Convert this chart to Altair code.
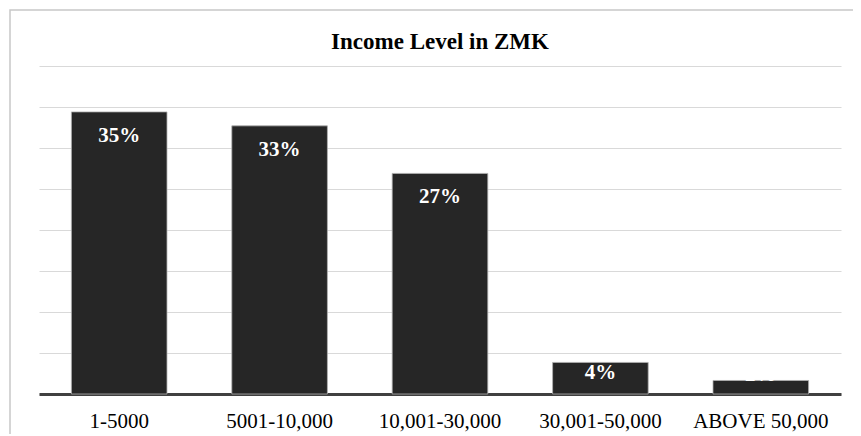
import altair as alt
import pandas as pd

categories = ["1-5000", "5001-10,000", "10,001-30,000", "30,001-50,000", "ABOVE 50,000"]
values = [34.4, 32.7, 26.9, 3.85, 1.65]
labels = ["35%", "33%", "27%", "4%", "2%"]
label_group = ["tall", "tall", "tall", "short", "tiny"]

df = pd.DataFrame({"cat": categories, "val": values, "lab": labels, "grp": label_group})

W, H = 802, 328
FONT = "Liberation Serif"

x = alt.X("cat:N", sort=categories, title=None,
          scale=alt.Scale(paddingInner=0.404, paddingOuter=0.202),
          axis=alt.Axis(labelAngle=0, labelFont=FONT, labelFontSize=21, labelColor="#000000",
                        labelBaseline="alphabetic", labelPadding=33, ticks=False,
                        domainColor="#404040", domainWidth=3, grid=False))
y = alt.Y("val:Q", title=None, scale=alt.Scale(domain=[0, 40], nice=False),
          axis=alt.Axis(values=[0, 5, 10, 15, 20, 25, 30, 35, 40], labels=False, ticks=False,
                        domain=False, grid=True, gridColor="#d9d9d9", gridWidth=1.2))

base = alt.Chart(df)

border = base.transform_filter("datum.cat == '1-5000'").mark_rect(
    fill=None, stroke="#c8c8c8", strokeWidth=1.5
).encode(x=alt.value(-29), x2=alt.value(W + 40), y=alt.value(-56), y2=alt.value(H + 80))

bars = base.mark_bar(color="#262626", stroke="#b0b0b0", strokeWidth=0.8).encode(x=x, y=y)

def text_layer(grp, dy):
    return base.transform_filter(f"datum.grp == '{grp}'").mark_text(
        font=FONT, fontSize=21, fontWeight="bold", color="#ffffff",
        baseline="alphabetic", align="center", dy=dy
    ).encode(x=x, y=y, text="lab:N")

chart = alt.layer(bars, border, text_layer("tall", 30), text_layer("short", 16.6),
                  text_layer("tiny", 1)).properties(
    width=W, height=H, background="#ffffff",
    title=alt.TitleParams("Income Level in ZMK", font=FONT, fontSize=23, fontWeight="bold",
                          color="#000000", anchor="middle", baseline="alphabetic", offset=-62.5),
    autosize=alt.AutoSizeParams(type="none"),
    padding={"left": 31, "top": 58, "right": 12, "bottom": 40},
).configure_view(strokeWidth=0, stroke="transparent").configure_axisY(domain=False)

chart.save("out.html", embed_options={"renderer": "svg", "actions": False})
